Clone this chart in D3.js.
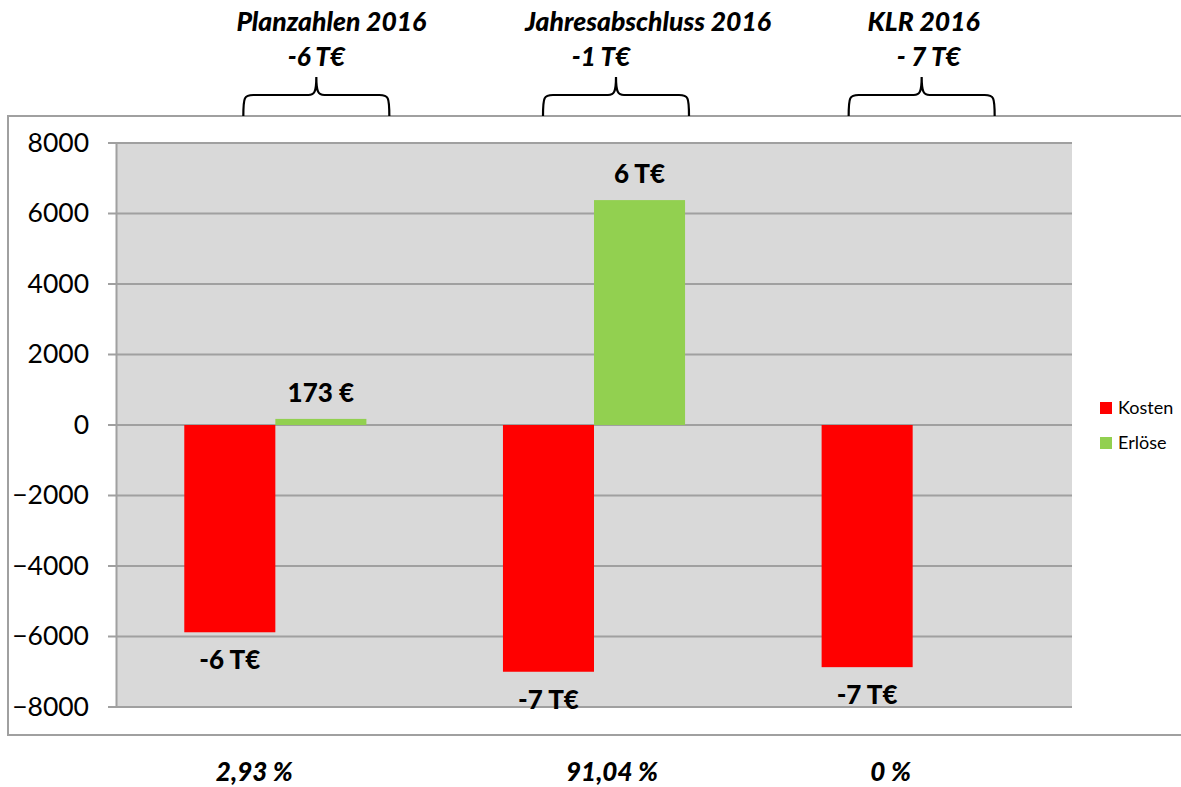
<!DOCTYPE html>
<html lang="de">
<head>
<meta charset="UTF-8">
<title>Kosten / Erlöse 2016</title>
<script src="https://cdn.jsdelivr.net/npm/d3@7"></script>
<style>
  body { margin: 0; background: #fff; }
  text { font-family: Lato, "Open Sans", sans-serif; }
</style>
</head>
<body>
<div id="chart"></div>
<script>
// Daten
var categories = ["Planzahlen 2016", "Jahresabschluss 2016", "KLR 2016"];
var series = ["Kosten", "Erlöse"];
var kosten = [-5880, -7000, -6870];
var erloese = [173, 6380, null];
var kostenLabels = ["-6 T€", "-7 T€", "-7 T€"];
var erloeseLabels = ["173 €", "6 T€", null];
var saldoLabels = ["-6 T€", "-1 T€", "- 7 T€"];
var quoteLabels = ["2,93 %", "91,04 %", "0 %"];
var yTicks = [-8000, -6000, -4000, -2000, 0, 2000, 4000, 6000, 8000];
var colors = {"Kosten": "#ff0000", "Erlöse": "#92d050"};

var width = 1181, height = 787;
var plot = {left: 116, right: 1072, top: 143, bottom: 707};

var svg = d3.select("#chart").append("svg")
    .attr("width", width)
    .attr("height", height);

// äußerer Rahmen
svg.append("path")
    .attr("d", "M1185,116 H8 V735 H1185")
    .attr("fill", "none")
    .attr("stroke", "#a0a0a0")
    .attr("stroke-width", 2);

var x0 = d3.scaleBand().domain(categories).range([plot.left, plot.right]).padding(0);
var x1 = d3.scaleBand().domain(series).range([0, x0.bandwidth()]).paddingInner(0).paddingOuter(0.75);
var y = d3.scaleLinear().domain([-8000, 8000]).range([plot.bottom, plot.top]);

// Zeichenfläche
svg.append("rect")
    .attr("x", plot.left).attr("y", plot.top)
    .attr("width", plot.right - plot.left).attr("height", plot.bottom - plot.top)
    .attr("fill", "#d9d9d9");

// Gitterlinien
svg.append("g").selectAll("line")
    .data(yTicks)
    .enter().append("line")
    .attr("x1", plot.left - 8).attr("x2", plot.right)
    .attr("y1", function(d) { return y(d); })
    .attr("y2", function(d) { return y(d); })
    .attr("stroke", "#a0a0a0")
    .attr("stroke-width", 2);

// y-Achse
var yAxis = d3.axisLeft(y).tickValues(yTicks).tickSize(0).tickPadding(27).tickFormat(d3.format("d"));
var gy = svg.append("g").attr("transform", "translate(" + plot.left + ",0)").call(yAxis);
gy.select(".domain").attr("stroke", "#a0a0a0").attr("stroke-width", 2);
gy.selectAll("text").attr("font-size", 26.5).attr("fill", "#000")
    .style("font-family", "Lato, 'Open Sans', sans-serif");

// Balken
var rows = categories.map(function(c, i) {
    return {cat: c, values: [
        {s: "Kosten", v: kosten[i], label: kostenLabels[i]},
        {s: "Erlöse", v: erloese[i], label: erloeseLabels[i]}
    ].filter(function(d) { return d.v !== null; })};
});

var groups = svg.append("g").selectAll("g")
    .data(rows)
    .enter().append("g")
    .attr("transform", function(d) { return "translate(" + x0(d.cat) + ",0)"; });

groups.selectAll("rect")
    .data(function(d) { return d.values; })
    .enter().append("rect")
    .attr("x", function(d) { return x1(d.s); })
    .attr("width", x1.bandwidth())
    .attr("y", function(d) { return y(Math.max(0, d.v)); })
    .attr("height", function(d) { return Math.abs(y(d.v) - y(0)); })
    .attr("fill", function(d) { return colors[d.s]; });

groups.selectAll("text")
    .data(function(d) { return d.values; })
    .enter().append("text")
    .attr("x", function(d) { return x1(d.s) + x1.bandwidth() / 2; })
    .attr("y", function(d) { return d.v < 0 ? y(d.v) + 28 : y(d.v) - 26; })
    .attr("dy", "0.35em")
    .attr("text-anchor", "middle")
    .attr("font-size", 26)
    .attr("font-weight", 900)
    .text(function(d) { return d.label; });

// Legende
var legend = svg.append("g").selectAll("g")
    .data(series)
    .enter().append("g")
    .attr("transform", function(d, i) { return "translate(1100," + (408 + i * 35) + ")"; });
legend.append("rect").attr("x", 0).attr("y", -6).attr("width", 12).attr("height", 12)
    .attr("fill", function(d) { return colors[d]; });
legend.append("text").attr("x", 18).attr("dy", "0.35em").attr("font-size", 18)
    .text(function(d) { return d; });

// Überschriften mit Klammern
var annoShift = [41, 22, 9];
var titleShift = [15, 32, 2];
var saldoShift = [0, -15, 7];
categories.forEach(function(c, i) {
    var cx = x0(c) + x0.bandwidth() / 2 + annoShift[i];
    var h = 73, yb = 116, yh = 95, yt = 77;
    var p = "M" + (cx - h) + "," + yb +
        " C" + (cx - h) + "," + (yh + 2) + " " + (cx - h + 1) + "," + yh + " " + (cx - h + 10) + "," + yh +
        " L" + (cx - 8) + "," + yh +
        " C" + (cx - 2) + "," + yh + " " + cx + "," + (yh - 3) + " " + cx + "," + yt +
        " C" + cx + "," + (yh - 3) + " " + (cx + 2) + "," + yh + " " + (cx + 8) + "," + yh +
        " L" + (cx + h - 10) + "," + yh +
        " C" + (cx + h - 1) + "," + yh + " " + (cx + h) + "," + (yh + 2) + " " + (cx + h) + "," + yb;
    svg.append("path").attr("d", p).attr("fill", "none")
        .attr("stroke", "#000").attr("stroke-width", 2.2);
    svg.append("text")
        .attr("x", cx + titleShift[i]).attr("y", 22).attr("dy", "0.35em")
        .attr("text-anchor", "middle").attr("font-size", 26.5)
        .attr("font-weight", 900).attr("font-style", "italic")
        .text(c);
    svg.append("text")
        .attr("x", cx + saldoShift[i]).attr("y", 57).attr("dy", "0.35em")
        .attr("text-anchor", "middle").attr("font-size", 26)
        .attr("font-weight", 900).attr("font-style", "italic")
        .text(saldoLabels[i]);
});

// Quoten unten
var quoteShift = [-21, 18, -22];
svg.append("g").selectAll("text")
    .data(categories)
    .enter().append("text")
    .attr("x", function(d, i) { return x0(d) + x0.bandwidth() / 2 + quoteShift[i]; })
    .attr("y", 772).attr("dy", "0.35em")
    .attr("text-anchor", "middle").attr("font-size", 26)
    .attr("font-weight", 900).attr("font-style", "italic")
    .text(function(d, i) { return quoteLabels[i]; });
</script>
</body>
</html>
